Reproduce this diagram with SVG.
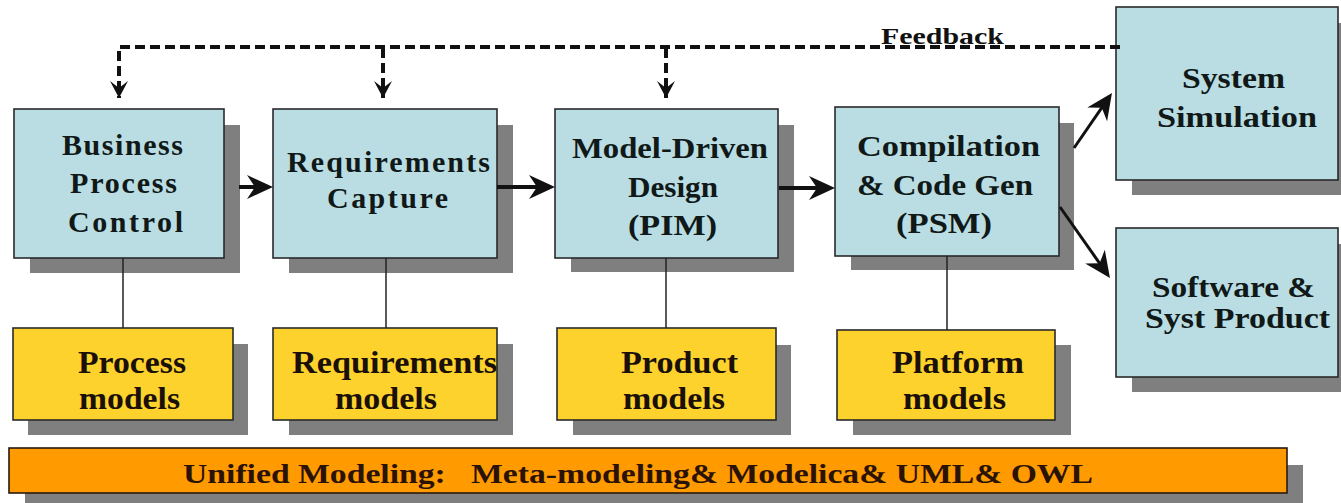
<svg xmlns="http://www.w3.org/2000/svg" width="1341" height="503" viewBox="0 0 1341 503">
<style>
.sh{fill:#7f7f7f}
.blue{fill:#b9dde2;stroke:#2a2a2a;stroke-width:1.6}
.yel{fill:#fdd22c;stroke:#2a2a2a;stroke-width:1.6}
.org{fill:#ff9a00;stroke:#2a1a10;stroke-width:1.6}
text{font-family:'Liberation Serif','Times New Roman',serif;font-weight:700}
.t{font-size:30px;fill:#101818}
.ty{font-size:32px;fill:#1a1008}
.tu{font-size:27px;fill:#2a1205}
.tf{font-size:24px;fill:#111}
.dash{fill:none;stroke:#111;stroke-width:4;stroke-dasharray:10 5}
.arr{fill:none;stroke:#111;stroke-width:4}
.arrd{fill:none;stroke:#111;stroke-width:3}
.thin{fill:none;stroke:#222;stroke-width:1.5}
</style>
<defs>
<marker id="ah" markerUnits="userSpaceOnUse" viewBox="-20 -14 32 28" refX="0" refY="0" markerWidth="32" markerHeight="28" orient="auto" overflow="visible">
<path d="M10,0 L-16,-12 L-8,0 L-16,12 Z" fill="#111"/>
</marker>
<marker id="ahd" markerUnits="userSpaceOnUse" viewBox="-20 -10 24 20" refX="0" refY="0" markerWidth="24" markerHeight="20" orient="auto" overflow="visible">
<path d="M0,0 L-17,-9 L-10,0 L-17,9 Z" fill="#111"/>
</marker>
</defs>
<rect width="1341" height="503" fill="#fff"/>

<g id="business">
<rect class="sh" x="30" y="125" width="210" height="148"/>
<rect class="blue" x="14" y="109" width="210" height="149"/>
<text class="t" x="62" y="155" textLength="121" lengthAdjust="spacing">Business</text>
<text class="t" x="70" y="193" textLength="107" lengthAdjust="spacing">Process</text>
<text class="t" x="68" y="232" textLength="115" lengthAdjust="spacing">Control</text>
</g>
<g id="requirements">
<rect class="sh" x="289" y="125" width="224" height="148"/>
<rect class="blue" x="273" y="109" width="224" height="149"/>
<text class="t" x="287" y="172" textLength="203" lengthAdjust="spacing">Requirements</text>
<text class="t" x="327" y="208" textLength="121" lengthAdjust="spacing">Capture</text>
</g>
<g id="modeldriven">
<rect class="sh" x="571" y="125" width="223" height="147"/>
<rect class="blue" x="555" y="109" width="223" height="149"/>
<text class="t" x="572" y="158" textLength="196" lengthAdjust="spacingAndGlyphs">Model-Driven</text>
<text class="t" x="628" y="197" textLength="90" lengthAdjust="spacingAndGlyphs">Design</text>
<text class="t" x="628" y="235" textLength="89" lengthAdjust="spacingAndGlyphs">(PIM)</text>
</g>
<g id="compilation">
<rect class="sh" x="851" y="123" width="223" height="147"/>
<rect class="blue" x="835" y="107" width="224" height="149"/>
<text class="t" x="857" y="156" textLength="183" lengthAdjust="spacingAndGlyphs">Compilation</text>
<text class="t" x="857" y="195" textLength="176" lengthAdjust="spacingAndGlyphs">&amp; Code Gen</text>
<text class="t" x="896" y="233" textLength="96" lengthAdjust="spacingAndGlyphs">(PSM)</text>
</g>
<g id="simulation">
<rect class="sh" x="1132" y="23" width="222" height="172"/>
<rect class="blue" x="1116" y="7" width="222" height="173"/>
<text class="t" x="1182" y="88" textLength="103" lengthAdjust="spacingAndGlyphs">System</text>
<text class="t" x="1157" y="127" textLength="160" lengthAdjust="spacingAndGlyphs">Simulation</text>
</g>
<g id="software">
<rect class="sh" x="1132" y="244" width="222" height="148"/>
<rect class="blue" x="1116" y="228" width="222" height="149"/>
<text class="t" x="1152" y="297" textLength="163" lengthAdjust="spacingAndGlyphs">Software &amp;</text>
<text class="t" x="1145" y="328" textLength="185" lengthAdjust="spacingAndGlyphs">Syst Product</text>
</g>

<g id="process-models">
<rect class="sh" x="28" y="344" width="220" height="91"/>
<rect class="yel" x="13" y="328" width="220" height="92"/>
<text class="ty" x="78" y="373" textLength="108" lengthAdjust="spacingAndGlyphs">Process</text>
<text class="ty" x="79" y="409" textLength="101" lengthAdjust="spacingAndGlyphs">models</text>
</g>
<g id="requirements-models">
<rect class="sh" x="289" y="344" width="224" height="91"/>
<rect class="yel" x="273" y="328" width="224" height="92"/>
<text class="ty" x="292" y="373" textLength="205" lengthAdjust="spacingAndGlyphs">Requirements</text>
<text class="ty" x="335" y="409" textLength="102" lengthAdjust="spacingAndGlyphs">models</text>
</g>
<g id="product-models">
<rect class="sh" x="573" y="345" width="218" height="90"/>
<rect class="yel" x="557" y="328" width="219" height="92"/>
<text class="ty" x="621" y="373" textLength="117" lengthAdjust="spacingAndGlyphs">Product</text>
<text class="ty" x="623" y="409" textLength="102" lengthAdjust="spacingAndGlyphs">models</text>
</g>
<g id="platform-models">
<rect class="sh" x="853" y="345" width="218" height="90"/>
<rect class="yel" x="837" y="330" width="218" height="90"/>
<text class="ty" x="892" y="373" textLength="132" lengthAdjust="spacingAndGlyphs">Platform</text>
<text class="ty" x="903" y="409" textLength="103" lengthAdjust="spacingAndGlyphs">models</text>
</g>
<g id="unified">
<rect class="sh" x="25" y="465" width="1278" height="45"/>
<rect class="org" x="9" y="448" width="1278" height="45"/>
<text class="tu" x="183" y="483" xml:space="preserve" textLength="910" lengthAdjust="spacingAndGlyphs">Unified Modeling:   Meta-modeling&amp; Modelica&amp; UML&amp; OWL</text>
</g>

<g id="connectors">
<path class="dash" d="M1120,47 H119 V98" marker-end="url(#ahd)"/>
<path class="dash" d="M383,48 V98" marker-end="url(#ahd)"/>
<path class="dash" d="M666,48 V98" marker-end="url(#ahd)"/>
<text class="tf" x="881" y="44" textLength="123" lengthAdjust="spacingAndGlyphs">Feedback</text>
<path class="arr" d="M239,187 H263" marker-end="url(#ah)"/>
<path class="arr" d="M497,187 H545" marker-end="url(#ah)"/>
<path class="arr" d="M779,188 H825" marker-end="url(#ah)"/>
<path class="arrd" d="M1074,148 L1106.3,101.2" marker-end="url(#ah)"/>
<path class="arrd" d="M1060,207 L1104.2,269.8" marker-end="url(#ah)"/>
<path class="thin" d="M123,258 V328"/>
<path class="thin" d="M386,258 V328"/>
<path class="thin" d="M666,258 V328"/>
<path class="thin" d="M947,256 V330"/>
</g>
</svg>
